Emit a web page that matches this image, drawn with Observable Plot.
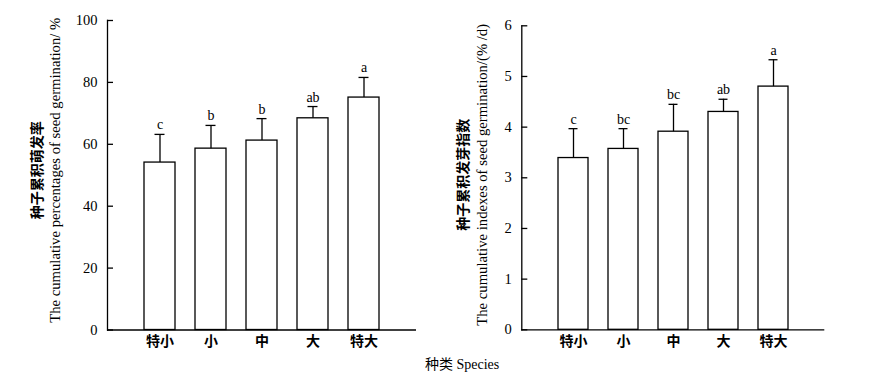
<!DOCTYPE html>
<html>
<head>
<meta charset="utf-8">
<script src="https://cdn.jsdelivr.net/npm/d3@7"></script>
<script src="https://cdn.jsdelivr.net/npm/@observablehq/plot@0.6"></script>
<style>
  html, body { margin: 0; padding: 0; background: #fff; }
  #wrap { position: relative; width: 869px; height: 378px; overflow: hidden; font-family: "Liberation Serif", serif; }
  #wrap svg { position: absolute; top: 0; background: transparent; }
  #xtitle { position: absolute; left: 425px; top: 354px; font-size: 14px; white-space: nowrap; line-height: 18px; color: #000; }
  #xtitle .cn { font-family: "Noto Sans CJK SC", sans-serif; }
</style>
</head>
<body>
<div id="wrap">
  <div id="xtitle"><span class="cn">种类</span> Species</div>
</div>
<script>
const categories = ["特小", "小", "中", "大", "特大"];

// Left panel: cumulative germination percentage (%)
const germPct = [54.1, 58.6, 61.2, 68.4, 75.1];
const germPctErr = [9.1, 7.5, 7.1, 3.8, 6.5];
const germPctLetters = ["c", "b", "b", "ab", "a"];
const leftTicks = [0, 20, 40, 60, 80, 100];
const leftTitleCn = "种子累积萌发率";
const leftTitleEn = "The cumulative percentages of seed germination/ %";

// Right panel: cumulative germination index (%/d)
const germIdx = [3.39, 3.57, 3.91, 4.30, 4.80];
const germIdxErr = [0.58, 0.40, 0.54, 0.25, 0.53];
const germIdxLetters = ["c", "bc", "bc", "ab", "a"];
const rightTicks = [0, 1, 2, 3, 4, 5, 6];
const rightTitleCn = "种子累积发芽指数";
const rightTitleEn = "The cumulative indexes of seed germination/(% /d)";

const serif = "Liberation Serif, Times New Roman, serif";
const cjk = "Noto Sans CJK SC, sans-serif";

function panel({values, errs, letters, ticks, domain, titleCn, titleEn, width, margins, cnDx, enDx, titleDy, left}) {
  const data = categories.map((c, i) => ({cat: c, v: values[i], top: values[i] + errs[i], letter: letters[i]}));
  const chart = Plot.plot({
    width,
    height: 378,
    marginLeft: margins[3],
    marginRight: margins[1],
    marginTop: margins[0],
    marginBottom: margins[2],
    style: {fontFamily: serif, fontSize: "14px", background: "transparent", color: "#000"},
    x: {type: "band", domain: categories, paddingInner: 0.4, paddingOuter: 0.7, label: null},
    y: {domain, ticks, label: null},
    marks: [
      Plot.barY(data, {x: "cat", y: "v", fill: "white", stroke: "black", strokeWidth: 1.3}),
      Plot.ruleX(data, {x: "cat", y1: "v", y2: "top", stroke: "black", strokeWidth: 1.3}),
      Plot.tickY(data, {x: "cat", y: "top", stroke: "black", strokeWidth: 1.3, insetLeft: 10.5, insetRight: 10.5}),
      Plot.text(data, {x: "cat", y: "top", text: "letter", lineAnchor: "bottom", dy: -5, fontSize: 14, fontFamily: serif, fill: "#000"}),
      Plot.ruleY([domain[0]], {stroke: "black", strokeWidth: 1.3}),
      Plot.frame({anchor: "left", stroke: "black", strokeWidth: 1.3}),
      Plot.axisY({ticks, tickFormat: d => String(d), tickSize: -6, tickPadding: 16, fontSize: 14.5, fontFamily: serif, stroke: "black", strokeWidth: 1.3, label: null}),
      Plot.axisX({tickSize: 0, tickPadding: 6, fontSize: 14, fontFamily: cjk, fontWeight: "bold", label: null}),
      Plot.text([titleCn], {text: d => d, frameAnchor: "left", textAnchor: "middle", rotate: -90, dx: cnDx, dy: titleDy, fontSize: 14, fontFamily: cjk, fontWeight: "bold", fill: "#000"}),
      Plot.text([titleEn], {text: d => d, frameAnchor: "left", textAnchor: "middle", rotate: -90, dx: enDx, dy: titleDy, fontSize: 14.7, fontFamily: serif, fill: "#000"})
    ]
  });
  chart.style.left = left + "px";
  return chart;
}

const wrap = document.getElementById("wrap");
wrap.appendChild(panel({
  values: germPct, errs: germPctErr, letters: germPctLetters, ticks: leftTicks, domain: [0, 100],
  titleCn: leftTitleCn, titleEn: leftTitleEn, width: 435,
  margins: [20, 19, 48.5, 107], cnDx: -70, enDx: -52, titleDy: -5, left: 0
}));
wrap.appendChild(panel({
  values: germIdx, errs: germIdxErr, letters: germIdxLetters, ticks: rightTicks, domain: [0, 6],
  titleCn: rightTitleCn, titleEn: rightTitleEn, width: 434,
  margins: [25.3, 44.7, 48.7, 86.3], cnDx: -58, enDx: -39.5, titleDy: -3, left: 435
}));
</script>
</body>
</html>
